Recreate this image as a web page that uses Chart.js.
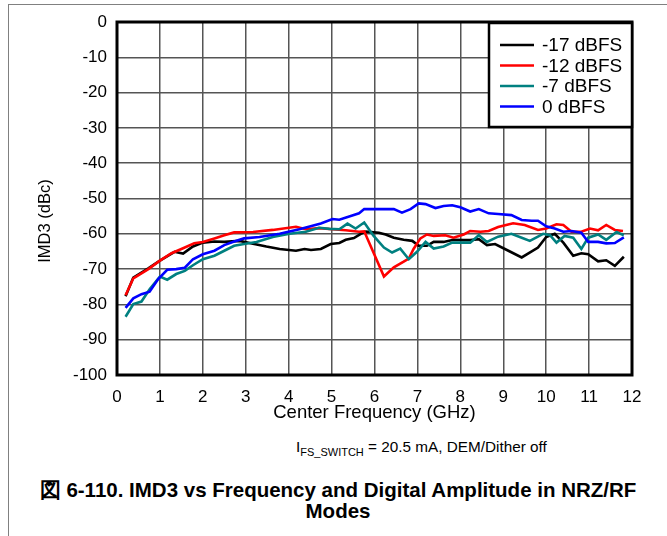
<!DOCTYPE html>
<html>
<head>
<meta charset="utf-8">
<script src="https://cdn.jsdelivr.net/npm/chart.js@4/dist/chart.umd.min.js"></script>
<style>
  html, body { margin: 0; padding: 0; background: #fff; overflow: hidden; }
  body { width: 667px; height: 536px; position: relative; font-family: "Liberation Sans", Arial, sans-serif; }
  #frame { position: absolute; left: 8px; top: 4px; width: 700px; height: 600px; border: 1.5px solid #808080; }
  #chart { position: absolute; left: 0; top: 0; }
  #cond { position: absolute; left: 296px; top: 438px; font-size: 15.3px; white-space: nowrap; }
  #cond sub { font-size: 11px; vertical-align: -4px; }
  #cap { position: absolute; left: 9px; width: 658px; top: 479px; text-align: center; font-weight: bold; font-size: 20.5px; line-height: 21px; white-space: nowrap; }
</style>
</head>
<body>
<div id="frame"></div>
<canvas id="chart" width="667" height="430"></canvas>
<div id="cond">I<sub>FS_SWITCH</sub> = 20.5 mA, DEM/Dither off</div>
<div id="cap">図 6-110. IMD3 vs Frequency and Digital Amplitude in NRZ/RF<br>Modes</div>
<script>
const seriesLabels = ['-17 dBFS', '-12 dBFS', '-7 dBFS', '0 dBFS'];
const seriesColors = ['#000000', '#ff0000', '#008080', '#0000ff'];

const xTicks = [0, 1, 2, 3, 4, 5, 6, 7, 8, 9, 10, 11, 12];
const yTicks = [0, -10, -20, -30, -40, -50, -60, -70, -80, -90, -100];

// -17 dBFS
const freqBlack = [0.2, 0.38, 0.73, 1.0, 1.34, 1.54, 1.77, 2.0, 2.27, 2.5, 2.86, 3.17, 3.48, 3.79, 4.17, 4.37, 4.52, 4.75, 4.98, 5.18, 5.33, 5.52, 5.68, 5.8, 6.1, 6.26, 6.45, 6.68, 6.88, 7.03, 7.22, 7.38, 7.61, 7.84, 8.08, 8.23, 8.43, 8.62, 8.81, 9.12, 9.43, 9.81, 10.0, 10.2, 10.4, 10.63, 10.82, 10.98, 11.21, 11.4, 11.6, 11.81];
const imdBlack = [-77.7, -72.4, -69.8, -67.6, -65.1, -65.6, -63.6, -62.5, -62.2, -62.3, -62.0, -62.8, -63.6, -64.3, -64.8, -64.3, -64.6, -64.3, -62.9, -62.6, -61.7, -61.2, -60.0, -59.4, -59.7, -60.2, -61.1, -61.7, -62.0, -63.4, -63.4, -62.3, -62.3, -61.7, -61.8, -61.8, -61.5, -63.2, -62.9, -64.8, -66.7, -63.9, -60.9, -60.0, -62.5, -66.2, -65.5, -65.8, -67.8, -67.5, -69.1, -66.5];

// -12 dBFS
const freqRed = [0.2, 0.38, 0.73, 1.0, 1.27, 1.5, 1.8, 2.0, 2.27, 2.5, 2.73, 3.17, 3.63, 4.17, 4.4, 4.71, 5.02, 5.33, 5.64, 5.76, 6.22, 6.45, 6.68, 6.8, 6.91, 7.07, 7.22, 7.38, 7.65, 7.84, 8.08, 8.23, 8.47, 8.66, 8.88, 9.23, 9.5, 9.81, 10.0, 10.24, 10.4, 10.59, 10.82, 11.02, 11.21, 11.4, 11.6, 11.79];
const imdRed = [-77.4, -72.6, -70.0, -67.6, -65.5, -64.3, -62.7, -62.3, -61.3, -60.4, -59.6, -59.5, -58.9, -58.0, -58.7, -58.4, -58.7, -59.0, -59.4, -59.3, -72.1, -69.5, -67.9, -67.0, -64.3, -61.3, -60.2, -60.6, -60.4, -61.1, -60.2, -59.2, -59.4, -59.2, -58.1, -57.0, -57.5, -58.9, -58.5, -57.3, -57.5, -59.4, -59.4, -58.5, -59.0, -57.5, -58.9, -59.2];

// -7 dBFS
const freqTeal = [0.2, 0.38, 0.57, 0.76, 1.0, 1.17, 1.38, 1.58, 1.77, 2.0, 2.27, 2.5, 2.73, 2.96, 3.25, 3.63, 4.02, 4.4, 4.71, 4.95, 5.18, 5.37, 5.56, 5.76, 5.98, 6.22, 6.41, 6.6, 6.8, 6.99, 7.19, 7.38, 7.61, 7.81, 8.0, 8.23, 8.43, 8.62, 8.88, 9.19, 9.43, 9.62, 9.93, 10.09, 10.24, 10.43, 10.63, 10.82, 10.98, 11.21, 11.4, 11.64, 11.81];
const imdTeal = [-83.5, -79.9, -79.2, -75.7, -72.1, -73.0, -71.4, -70.5, -68.9, -67.2, -66.2, -64.8, -63.4, -62.9, -62.3, -60.9, -60.0, -59.4, -58.3, -58.6, -58.7, -57.1, -58.5, -56.8, -60.6, -63.9, -65.3, -64.2, -67.2, -65.1, -62.3, -64.2, -63.6, -62.5, -62.5, -62.5, -60.4, -62.3, -60.8, -60.0, -61.1, -62.0, -60.0, -60.4, -62.5, -60.6, -61.1, -64.3, -61.1, -60.2, -61.7, -59.5, -60.4];

// 0 dBFS
const freqBlue = [0.2, 0.38, 0.57, 0.76, 0.96, 1.17, 1.38, 1.58, 1.77, 2.0, 2.27, 2.5, 2.73, 2.96, 3.32, 3.79, 4.25, 4.75, 5.02, 5.18, 5.41, 5.64, 5.76, 6.14, 6.45, 6.64, 6.84, 7.03, 7.19, 7.42, 7.61, 7.81, 8.0, 8.23, 8.43, 8.66, 8.88, 9.19, 9.43, 9.66, 9.81, 10.0, 10.2, 10.4, 10.59, 10.82, 10.98, 11.21, 11.4, 11.6, 11.81];
const imdBlue = [-81.0, -78.3, -77.1, -76.4, -72.8, -70.2, -70.0, -69.6, -67.2, -65.8, -64.8, -63.2, -62.2, -61.3, -60.9, -60.0, -58.7, -57.1, -55.8, -56.0, -55.1, -54.2, -53.0, -53.0, -53.0, -54.0, -53.0, -51.4, -51.6, -52.7, -52.1, -51.9, -52.5, -53.7, -53.0, -54.2, -54.4, -54.7, -56.1, -56.3, -56.3, -57.9, -58.5, -59.4, -59.2, -59.7, -62.3, -62.3, -62.7, -62.6, -61.0];

const FONT = '"Liberation Sans", Arial, sans-serif';

function pts(fx, vy) {
  return fx.map((f, i) => ({ x: f, y: vy[i] }));
}

const allFreq = [freqBlack, freqRed, freqTeal, freqBlue];
const allImd = [imdBlack, imdRed, imdTeal, imdBlue];

const datasets = seriesLabels.map((lab, i) => ({
  label: lab,
  data: pts(allFreq[i], allImd[i]),
  borderColor: seriesColors[i],
  backgroundColor: seriesColors[i],
  borderWidth: 2.6,
  pointRadius: 0,
  tension: 0,
  fill: false,
  order: seriesLabels.length - i
}));

// frame, legend and axis titles
const decor = {
  id: 'decor',
  afterDatasetsDraw(chart) {
    const ctx = chart.ctx;
    const a = chart.chartArea;
    ctx.save();

    ctx.strokeStyle = '#000';
    ctx.lineWidth = 3;
    ctx.strokeRect(a.left, a.top, a.right - a.left, a.bottom - a.top);

    // legend
    const bx = 489, by = 23, bw = a.right - bx, bh = 104;
    ctx.fillStyle = '#fff';
    ctx.fillRect(bx, by, bw, bh);
    ctx.lineWidth = 2.5;
    ctx.strokeRect(bx, by, bw, bh);
    ctx.font = '19px ' + FONT;
    ctx.textBaseline = 'middle';
    ctx.textAlign = 'left';
    seriesLabels.forEach((lab, i) => {
      const y = 45 + i * 20.5;
      ctx.strokeStyle = seriesColors[i];
      ctx.lineWidth = 2.6;
      ctx.beginPath();
      ctx.moveTo(500, y);
      ctx.lineTo(534, y);
      ctx.stroke();
      ctx.fillStyle = '#000';
      ctx.fillText(lab, 542, y + 1);
    });

    // axis titles
    ctx.fillStyle = '#000';
    ctx.font = '18.5px ' + FONT;
    ctx.textAlign = 'center';
    ctx.fillText('Center Frequency (GHz)', (a.left + a.right) / 2, 413);
    ctx.font = '16.5px ' + FONT;
    ctx.translate(45, 221);
    ctx.rotate(-Math.PI / 2);
    ctx.fillText('IMD3 (dBc)', 0, 0);
    ctx.restore();
  }
};

new Chart(document.getElementById('chart'), {
  type: 'line',
  data: { datasets: datasets },
  options: {
    responsive: false,
    animation: false,
    devicePixelRatio: 1,
    layout: { padding: { left: 0, top: 22, right: 35, bottom: 15 } },
    plugins: { legend: { display: false }, tooltip: { enabled: false } },
    scales: {
      x: {
        type: 'linear',
        min: xTicks[0],
        max: xTicks[xTicks.length - 1],
        afterBuildTicks: s => { s.ticks = xTicks.map(v => ({ value: v })); },
        afterFit: s => { s.height = 40; },
        grid: { color: '#555', lineWidth: 1.5, drawTicks: false },
        border: { display: false },
        ticks: { color: '#000', font: { family: FONT, size: 17 }, padding: 12, maxRotation: 0 }
      },
      y: {
        type: 'linear',
        min: yTicks[yTicks.length - 1],
        max: yTicks[0],
        afterBuildTicks: s => { s.ticks = yTicks.slice().reverse().map(v => ({ value: v })); },
        afterFit: s => { s.width = 117; },
        grid: { color: '#555', lineWidth: 1.5, drawTicks: false },
        border: { display: false },
        ticks: { color: '#000', font: { family: FONT, size: 17 }, padding: 10 }
      }
    }
  },
  plugins: [decor]
});
</script>
</body>
</html>
